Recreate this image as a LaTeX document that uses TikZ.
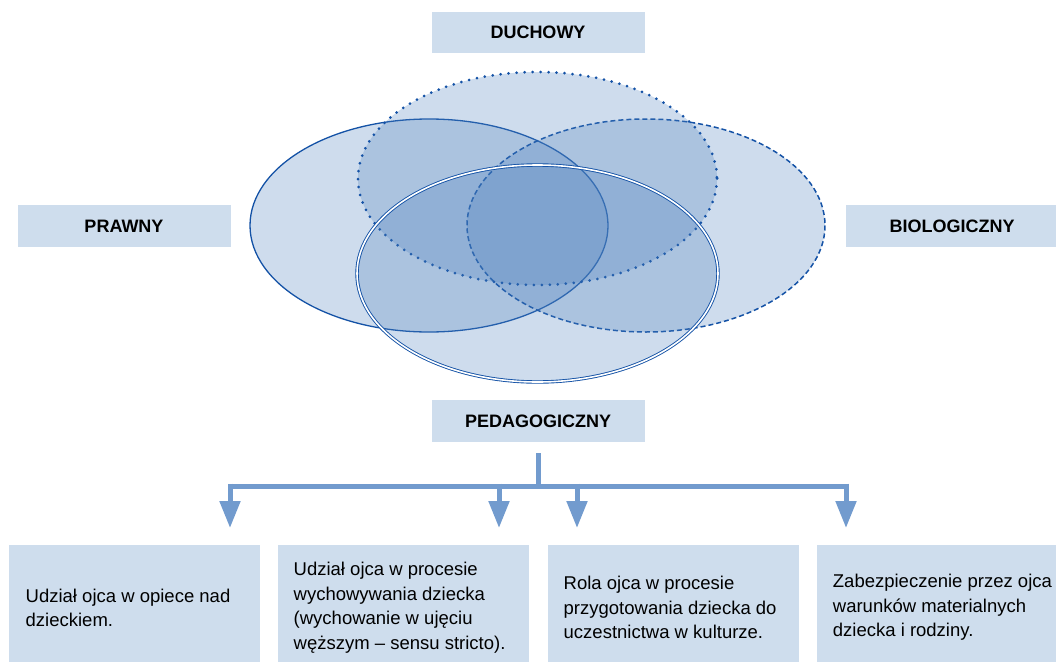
\documentclass[tikz,border=0pt]{standalone}
\usepackage{fontspec}
\setmainfont{Liberation Sans}
\usetikzlibrary{arrows.meta,calc}
\definecolor{boxfill}{RGB}{206,221,237}
\definecolor{ellfill}{RGB}{79,129,189}
\definecolor{ellline}{RGB}{20,82,166}
\definecolor{arrowc}{RGB}{114,155,206}
\tikzset{
  labelbox/.style={fill=boxfill, minimum width=213pt, minimum height=41.5pt, inner sep=0pt,
    font=\bfseries\fontsize{18}{22}\selectfont},
  infobox/.style={fill=boxfill, minimum width=251pt, minimum height=125pt, inner sep=0pt, anchor=north west},
  infotext/.style={anchor=west, align=left, inner sep=0pt, font=\fontsize{18.5}{24.5}\selectfont},
  ellbase/.style={fill=ellfill, fill opacity=0.28, draw=ellline, draw opacity=1},
  conn/.style={draw=arrowc, line width=5pt},
  connarrow/.style={conn, -{Triangle[width=20pt,length=27pt]}}
}
\begin{document}
\begin{tikzpicture}[x=1pt,y=-1pt]
\useasboundingbox (0,0) rectangle (1056,661);
\begin{scope}
\clip (0,0) rectangle (1056,661);
% ellipses
\path[ellbase, line width=1.3pt] (429,225.5) ellipse [x radius=179, y radius=106.5];
\path[ellbase, line width=1.5pt, dash pattern=on 5pt off 3pt] (646,225.5) ellipse [x radius=179, y radius=106.5];
\path[ellbase, line width=3pt, line cap=round, dash pattern=on 0pt off 8pt] (537.5,178.5) ellipse [x radius=179.5, y radius=106.5];
\path[ellbase, line width=0.9pt, double=none, double distance=1.6pt] (537.5,273.5) ellipse [x radius=180.5, y radius=108.5];
% labels
\node[labelbox] (duch) at (538,32.5) {DUCHOWY};
\node[labelbox] (praw) at (124,226) {PRAWNY};
\node[labelbox] (biol) at (952,226) {BIOLOGICZNY};
\node[labelbox] (ped) at (538,421) {PEDAGOGICZNY};
% bottom boxes
\node[infobox] (b1) at (8.5,545) {};
\node[infobox] (b2) at (277.5,545) {};
\node[infobox] (b3) at (547.5,545) {};
\node[infobox] (b4) at (816.7,545) {};
\node[infotext] (t1) at ($(b1.west)+(17,0)$) {Udział ojca w opiece nad\\dzieckiem.};
\node[infotext] (t2) at ($(b2.west)+(16,0)$) {Udział ojca w procesie\\wychowywania dziecka\\(wychowanie w ujęciu\\węższym -- sensu stricto).};
\node[infotext] (t3) at ($(b3.west)+(16,0)$) {Rola ojca w procesie\\przygotowania dziecka do\\uczestnictwa w kulturze.};
\node[infotext] (t4) at ($(b4.west)+(16,0)$) {Zabezpieczenie przez ojca\\warunków materialnych\\dziecka i rodziny.};
% connectors
\coordinate (j) at (538,486);
\coordinate (a1) at (230,528);
\coordinate (a2) at (499,528);
\coordinate (a3) at (577,528);
\coordinate (a4) at (846,528);
\draw[conn] ([yshift=-11.5pt]ped.south) -- (j);
\draw[conn] (a1 |- j) -- (a4 |- j);
\draw[connarrow] (a1 |- j) ++(0,-2.5) -- (a1);
\draw[connarrow] (a2 |- j) ++(0,-2.5) -- (a2);
\draw[connarrow] (a3 |- j) ++(0,-2.5) -- (a3);
\draw[connarrow] (a4 |- j) ++(0,-2.5) -- (a4);
\end{scope}
\end{tikzpicture}
\end{document}
